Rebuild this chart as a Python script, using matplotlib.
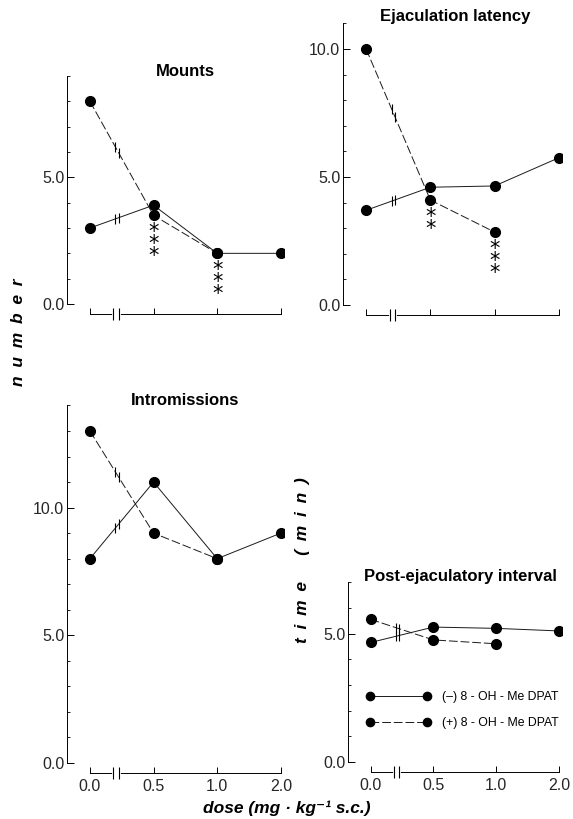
import matplotlib
matplotlib.use('Agg')
import matplotlib.pyplot as plt
import numpy as np
from matplotlib.ticker import MultipleLocator, FixedLocator

plt.rcParams['font.family'] = ['Liberation Sans', 'DejaVu Sans']

doses = ['0.0', '0.5', '1.0', '2.0']

mounts_minus = [3.0, 3.9, 2.0, 2.0]
mounts_plus = [8.0, 3.5, 2.0]
ejac_minus = [3.7, 4.6, 4.65, 5.75]
ejac_plus = [10.0, 4.1, 2.85]
intro_minus = [8.0, 11.0, 8.0, 9.0]
intro_plus = [13.0, 9.0, 8.0]
pei_minus = [4.65, 5.25, 5.2, 5.1]
pei_plus = [5.55, 4.75, 4.6]

# significance stars on the (+) series: (dose index, stars)
mounts_stars = [(1, '***'), (2, '***')]
ejac_stars = [(1, '**'), (2, '***')]

labels = ['(\u2013) 8 - OH - Me DPAT', '(+) 8 - OH - Me DPAT']

W, H = 573, 819
fig = plt.figure(figsize=(W / 100, H / 100), dpi=100)


def px_axes(left, top, right, bottom):
    return fig.add_axes([left / W, 1 - bottom / H, (right - left) / W, (bottom - top) / H])


def panel(ax, minus, plus, ymax, yticks, xlab, stars=()):
    x = np.arange(len(doses))
    ax.plot(x[:len(minus)], minus, '-', color='0.1', lw=0.7, marker='o', ms=7,
            mfc='k', mec='k', label=labels[0])
    ax.plot(x[:len(plus)], plus, color='0.1', lw=0.7, ls=(0, (9, 3)), marker='o',
            ms=7, mfc='k', mec='k', label=labels[1])
    # break marks on the first segment of each line
    for ser in (minus, plus):
        xb = np.array([0.40, 0.45])
        yb = np.interp(xb, [0, 1], ser[:2])
        ax.plot(xb, yb, ls='none', marker='|', ms=7, mew=0.8, color='k')
    for i, s in stars:
        ax.annotate('\n'.join(s), xy=(i, plus[i]), xytext=(0, -5), textcoords='offset points',
                    ha='center', va='top', fontsize=15, linespacing=0.5, family='DejaVu Sans')
    ax.set_ylim(0, ymax)
    ax.set_xlim(-0.36, 3.05)
    for s in ('top', 'right'):
        ax.spines[s].set_visible(False)
    ax.spines['left'].set_bounds(0, ymax)
    ax.spines['bottom'].set_bounds(0, 3)
    ax.spines['bottom'].set_position(('outward', 7.5))
    for s in ('left', 'bottom'):
        ax.spines[s].set_linewidth(0.7)
    ax.yaxis.set_major_locator(FixedLocator(yticks))
    ax.set_yticklabels([f'{v:.1f}' for v in yticks])
    ax.yaxis.set_minor_locator(MultipleLocator(1))
    ax.tick_params(axis='y', which='major', direction='in', length=5, width=0.7, pad=2,
                   labelsize=11.5, labelcolor='0.15')
    ax.tick_params(axis='y', which='minor', direction='in', length=2, width=0.6)
    ax.set_xticks(x)
    ax.set_xticklabels(doses)
    ax.tick_params(axis='x', direction='in', length=4, width=0.7, pad=4,
                   labelsize=11.5, labelcolor='0.15', labelbottom=xlab)
    tr = ax.spines['bottom'].get_spine_transform()
    ax.plot([0.37, 0.45], [0, 0], color='white', lw=2, transform=tr, clip_on=False, zorder=5)
    ax.plot([0.37, 0.45], [0, 0], ls='none', marker='|', ms=8, mew=0.8, color='k',
            transform=tr, clip_on=False, zorder=6)


ax1 = px_axes(67, 76, 284, 304)
panel(ax1, mounts_minus, mounts_plus, 9, [0, 5], False, mounts_stars)

ax2 = px_axes(343, 305 - 11 * 25.6, 562, 305)
panel(ax2, ejac_minus, ejac_plus, 11, [0, 5, 10], False, ejac_stars)

ax3 = px_axes(67, 763 - 14 * 25.54, 284, 763)
panel(ax3, intro_minus, intro_plus, 14, [0, 5, 10], True)

ax4 = px_axes(348, 762 - 7 * 25.7, 562, 762)
panel(ax4, pei_minus, pei_plus, 7, [0, 5], True)
ax4.legend(loc='upper left', bbox_to_anchor=(0.085, 0.395), frameon=False, numpoints=2,
           handlelength=5.3, handletextpad=0.9, labelspacing=1.15, fontsize=8.8,
           borderpad=0, borderaxespad=0, markerscale=0.85)

tfont = dict(fontsize=12, fontweight='bold', ha='center', va='center')
fig.text(185 / W, 1 - 72 / H, 'Mounts', **tfont)
fig.text(455 / W, 1 - 17 / H, 'Ejaculation latency', **tfont)
fig.text(185 / W, 1 - 400 / H, 'Intromissions', **tfont)
fig.text(460 / W, 1 - 577 / H, 'Post-ejaculatory interval', **tfont)

lfont = dict(fontsize=12.5, fontweight='bold', style='italic', ha='center', va='center')
sp = '\u2002'
fig.text(19 / W, 1 - 332 / H, sp.join('number'), rotation=90, **lfont)
fig.text(303 / W, 1 - 560 / H, sp.join('time') + sp * 3 + sp.join('(min)'), rotation=90, **lfont)
fig.text(287 / W, 1 - 808 / H, 'dose (mg \u00b7 kg\u207b\u00b9 s.c.)', **lfont)

fig.savefig('out.png', dpi=100)
